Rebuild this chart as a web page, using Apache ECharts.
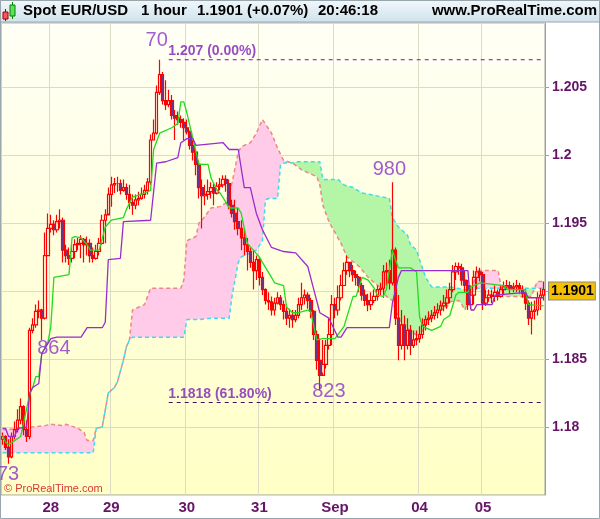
<!DOCTYPE html>
<html>
<head>
<meta charset="utf-8">
<title>Spot EUR/USD 1 hour</title>
<script src="https://cdn.jsdelivr.net/npm/echarts/dist/echarts.min.js"></script>
<style>
  html, body { margin: 0; padding: 0; background: #fff; }
  #chart { width: 600px; height: 519px; }
</style>
</head>
<body>
<div id="chart"></div>
<script>
// hourly candles
const opens = [1.1791,1.1793,1.1785,1.1778,1.1793,1.1798,1.1805,1.1815,1.1798,1.1793,
  1.1871,1.1875,1.1885,1.1886,1.1880,1.1926,1.1946,1.1949,1.1945,1.1951,
  1.1952,1.1930,1.1926,1.1924,1.1929,1.1934,1.1935,1.1938,1.1934,1.1935,
  1.1926,1.1924,1.1929,1.1935,1.1952,1.1956,1.1971,1.1978,1.1979,1.1979,
  1.1974,1.1976,1.1971,1.1965,1.1963,1.1967,1.1968,1.1971,1.1974,1.1980,
  1.2011,1.2016,1.2046,1.2059,1.2040,1.2037,1.2040,1.2029,1.2027,1.2026,
  1.2024,1.2020,1.2017,1.2007,1.2002,1.1993,1.1976,1.1970,1.1971,1.1973,
  1.1976,1.1972,1.1977,1.1978,1.1982,1.1979,1.1963,1.1957,1.1951,1.1946,
  1.1939,1.1934,1.1929,1.1921,1.1915,1.1923,1.1910,1.1901,1.1893,1.1892,
  1.1886,1.1891,1.1895,1.1890,1.1885,1.1880,1.1882,1.1879,1.1882,1.1890,
  1.1895,1.1897,1.1893,1.1885,1.1868,1.1849,1.1838,1.1846,1.1860,1.1868,
  1.1890,1.1886,1.1895,1.1904,1.1915,1.1921,1.1915,1.1912,1.1910,1.1904,
  1.1897,1.1893,1.1890,1.1893,1.1896,1.1901,1.1902,1.1914,1.1915,1.1906,
  1.1930,1.1880,1.1860,1.1875,1.1860,1.1871,1.1860,1.1864,1.1865,1.1868,
  1.1875,1.1879,1.1880,1.1882,1.1884,1.1886,1.1889,1.1891,1.1895,1.1901,
  1.1914,1.1918,1.1917,1.1908,1.1904,1.1890,1.1897,1.1910,1.1914,1.1912,
  1.1891,1.1895,1.1897,1.1896,1.1899,1.1896,1.1901,1.1903,1.1904,1.1902,
  1.1903,1.1904,1.1901,1.1898,1.1891,1.1880,1.1885,1.1886,1.1895,1.1897];
const closes = [1.1793,1.1785,1.1778,1.1793,1.1798,1.1805,1.1815,1.1798,1.1793,1.1871,
  1.1875,1.1885,1.1886,1.1880,1.1926,1.1946,1.1949,1.1945,1.1951,1.1952,
  1.1930,1.1926,1.1924,1.1929,1.1934,1.1935,1.1938,1.1934,1.1935,1.1926,
  1.1924,1.1929,1.1935,1.1952,1.1956,1.1971,1.1978,1.1979,1.1979,1.1974,
  1.1976,1.1971,1.1965,1.1963,1.1967,1.1968,1.1971,1.1974,1.1980,1.2011,
  1.2016,1.2046,1.2059,1.2040,1.2037,1.2040,1.2029,1.2027,1.2026,1.2024,
  1.2020,1.2017,1.2007,1.2002,1.1993,1.1976,1.1970,1.1971,1.1973,1.1976,
  1.1972,1.1977,1.1978,1.1982,1.1979,1.1963,1.1957,1.1951,1.1946,1.1939,
  1.1934,1.1929,1.1921,1.1915,1.1923,1.1910,1.1901,1.1893,1.1892,1.1886,
  1.1891,1.1895,1.1890,1.1885,1.1880,1.1882,1.1879,1.1882,1.1890,1.1895,
  1.1897,1.1893,1.1885,1.1868,1.1849,1.1838,1.1846,1.1860,1.1868,1.1890,
  1.1886,1.1895,1.1904,1.1915,1.1921,1.1915,1.1912,1.1910,1.1904,1.1897,
  1.1893,1.1890,1.1893,1.1896,1.1901,1.1902,1.1914,1.1915,1.1906,1.1930,
  1.1880,1.1860,1.1875,1.1860,1.1871,1.1860,1.1864,1.1865,1.1868,1.1875,
  1.1879,1.1880,1.1882,1.1884,1.1886,1.1889,1.1891,1.1895,1.1901,1.1914,
  1.1918,1.1917,1.1908,1.1904,1.1890,1.1897,1.1910,1.1914,1.1912,1.1891,
  1.1895,1.1897,1.1896,1.1899,1.1896,1.1901,1.1903,1.1904,1.1902,1.1903,
  1.1904,1.1901,1.1898,1.1891,1.1880,1.1885,1.1886,1.1895,1.1897,1.1901];
const highs = [1.1796,1.1794,1.1791,1.1796,1.1804,1.1813,1.1821,1.1816,1.1805,1.1873,
  1.1880,1.1890,1.1893,1.1887,1.1943,1.1957,1.1956,1.1952,1.1956,1.1960,
  1.1954,1.1934,1.1932,1.1934,1.1938,1.1939,1.1941,1.1939,1.1940,1.1938,
  1.1932,1.1934,1.1939,1.1956,1.1960,1.1976,1.1984,1.1983,1.1984,1.1982,
  1.1982,1.1979,1.1978,1.1971,1.1971,1.1973,1.1976,1.1978,1.1983,1.2015,
  1.2026,1.2051,1.2070,1.2061,1.2055,1.2048,1.2044,1.2033,1.2032,1.2029,
  1.2027,1.2026,1.2018,1.2011,1.2004,1.1996,1.1982,1.1978,1.1982,1.1980,
  1.1979,1.1980,1.1983,1.1985,1.1985,1.1982,1.1967,1.1967,1.1961,1.1952,
  1.1946,1.1939,1.1932,1.1930,1.1926,1.1924,1.1914,1.1902,1.1899,1.1896,
  1.1895,1.1899,1.1897,1.1893,1.1890,1.1887,1.1886,1.1886,1.1895,1.1906,
  1.1901,1.1899,1.1895,1.1886,1.1871,1.1865,1.1864,1.1864,1.1880,1.1897,
  1.1895,1.1904,1.1912,1.1921,1.1926,1.1921,1.1919,1.1915,1.1911,1.1906,
  1.1901,1.1898,1.1899,1.1901,1.1904,1.1906,1.1919,1.1921,1.1923,1.1980,
  1.1932,1.1897,1.1886,1.1882,1.1880,1.1875,1.1871,1.1871,1.1874,1.1880,
  1.1882,1.1885,1.1886,1.1889,1.1891,1.1893,1.1897,1.1901,1.1906,1.1919,
  1.1921,1.1921,1.1920,1.1915,1.1908,1.1904,1.1915,1.1918,1.1917,1.1914,
  1.1901,1.1901,1.1901,1.1904,1.1901,1.1904,1.1907,1.1908,1.1907,1.1906,
  1.1908,1.1906,1.1904,1.1901,1.1893,1.1892,1.1893,1.1899,1.1902,1.1907];
const lows = [1.1787,1.1783,1.1773,1.1777,1.1791,1.1796,1.1802,1.1794,1.1789,1.1791,
  1.1869,1.1873,1.1880,1.1864,1.1879,1.1926,1.1943,1.1941,1.1943,1.1946,
  1.1921,1.1921,1.1919,1.1921,1.1924,1.1930,1.1924,1.1921,1.1926,1.1921,
  1.1921,1.1923,1.1926,1.1934,1.1935,1.1957,1.1962,1.1972,1.1973,1.1971,
  1.1973,1.1967,1.1960,1.1956,1.1960,1.1963,1.1967,1.1968,1.1971,1.1978,
  1.2011,1.2015,1.2044,1.2037,1.2033,1.2035,1.2026,1.2011,1.2022,1.2020,
  1.2011,1.2015,1.2004,1.1996,1.1985,1.1968,1.1946,1.1963,1.1967,1.1968,
  1.1963,1.1971,1.1974,1.1976,1.1973,1.1960,1.1954,1.1945,1.1941,1.1930,
  1.1926,1.1915,1.1917,1.1901,1.1908,1.1904,1.1897,1.1890,1.1886,1.1882,
  1.1882,1.1890,1.1886,1.1879,1.1875,1.1873,1.1873,1.1877,1.1880,1.1886,
  1.1890,1.1887,1.1880,1.1864,1.1842,1.1827,1.1840,1.1843,1.1857,1.1860,
  1.1880,1.1882,1.1893,1.1904,1.1912,1.1910,1.1907,1.1904,1.1899,1.1893,
  1.1889,1.1885,1.1886,1.1891,1.1893,1.1897,1.1895,1.1904,1.1901,1.1904,
  1.1875,1.1849,1.1857,1.1849,1.1857,1.1853,1.1858,1.1860,1.1862,1.1865,
  1.1871,1.1875,1.1877,1.1879,1.1880,1.1882,1.1885,1.1887,1.1891,1.1899,
  1.1908,1.1912,1.1904,1.1899,1.1886,1.1887,1.1890,1.1901,1.1907,1.1886,
  1.1889,1.1892,1.1891,1.1892,1.1893,1.1895,1.1898,1.1901,1.1898,1.1899,
  1.1899,1.1898,1.1895,1.1886,1.1875,1.1868,1.1879,1.1882,1.1886,1.1893];

// day separators: bar index where each day starts
const dayStarts = [16, 36, 61, 85, 110, 138, 159];
const dayNames = ['28', '29', '30', '31', 'Sep', '04', '05'];

// ichimoku lines, [bar, price] at the break points
const tenkan = [[0,1.1794],[1,1.1789],[2,1.1787],[4,1.1790],[6,1.1793],[9,1.1824],[10,1.1829],[11,1.1837],[12,1.1837],
  [13,1.1854],[15,1.1862],[16,1.1874],[17,1.1910],[22,1.1912],[23,1.1939],[24,1.1940],[26,1.1939],[28,1.1934],
  [29,1.1930],[32,1.1930],[34,1.1947],[36,1.1952],[40,1.1954],[41,1.1960],[43,1.1969],[47,1.1972],[49,1.1974],
  [50,1.2004],[52,1.2016],[56,1.2020],[58,1.2023],[59,1.2039],[60,1.2039],[61,1.2031],[65,1.1993],[68,1.1993],
  [69,1.1983],[71,1.1974],[72,1.1972],[74,1.1965],[75,1.1961],[78,1.1961],[79,1.1957],[81,1.1935],[83,1.1930],
  [85,1.1925],[86,1.1921],[89,1.1910],[90,1.1906],[93,1.1904],[94,1.1888],[96,1.1884],[98,1.1884],[101,1.1886],
  [102,1.1885],[103,1.1874],[104,1.1864],[106,1.1865],[110,1.1865],[113,1.1874],[116,1.1896],[117,1.1896],
  [119,1.1910],[121,1.1908],[123,1.1902],[124,1.1897],[126,1.1896],[127,1.1901],[129,1.1930],[130,1.1923],
  [131,1.1917],[135,1.1917],[137,1.1914],[138,1.1881],[139,1.1874],[142,1.1871],[145,1.1874],[146,1.1879],
  [148,1.1882],[150,1.1897],[151,1.1899],[154,1.1899],[155,1.1903],[158,1.1906],[166,1.1904],[167,1.1901],
  [173,1.1901],[174,1.1890],[179,1.1889]];
const kijun = [[0,1.1799],[1,1.1799],[2,1.1793],[4,1.1793],[5,1.1799],[8,1.1800],[9,1.1825],[10,1.1829],[12,1.1832],
  [13,1.1854],[16,1.1865],[18,1.1866],[26,1.1866],[28,1.1873],[33,1.1873],[34,1.1877],[35,1.1923],[39,1.1924],
  [40,1.1951],[49,1.1952],[51,1.1994],[54,1.1995],[58,1.1998],[59,1.2009],[61,1.2012],[63,1.2012],[64,1.2007],
  [73,1.2009],[75,1.2004],[78,1.2004],[80,1.1976],[82,1.1976],[84,1.1957],[86,1.1945],[89,1.1932],[93,1.1929],
  [97,1.1928],[101,1.1918],[103,1.1901],[105,1.1884],[108,1.1880],[111,1.1866],[112,1.1866],[114,1.1873],
  [128,1.1873],[129,1.1891],[131,1.1910],[132,1.1915],[154,1.1915],[155,1.1886],[156,1.1886],[157,1.1890],
  [162,1.1890],[163,1.1897],[173,1.1899],[174,1.1895],[179,1.1895]];
const spanA = [[0,1.1798],[6,1.1799],[14,1.1801],[16,1.1802],[20,1.1801],[21,1.1802],[25,1.1799],[27,1.1796],
  [28,1.1790],[30,1.1790],[31,1.1799],[33,1.1800],[35,1.1825],[37,1.1829],[38,1.1833],[40,1.1849],[41,1.1859],
  [42,1.1864],[43,1.1886],[45,1.1888],[47,1.1890],[49,1.1902],[59,1.1902],[60,1.1908],[61,1.1937],[64,1.1940],
  [65,1.1950],[66,1.1952],[69,1.1961],[72,1.1962],[74,1.1965],[76,1.1980],[78,1.2002],[79,1.2006],[82,1.2009],
  [84,1.2016],[86,1.2026],[89,1.2016],[91,1.2005],[93,1.1996],[96,1.1994],[99,1.1989],[101,1.1987],[104,1.1984],
  [105,1.1978],[106,1.1963],[108,1.1951],[112,1.1935],[114,1.1925],[118,1.1918],[121,1.1910],[123,1.1906],
  [126,1.1901],[127,1.1896],[129,1.1893],[130,1.1886],[132,1.1876],[136,1.1869],[138,1.1866],[140,1.1875],
  [143,1.1884],[147,1.1888],[148,1.1892],[151,1.1893],[152,1.1890],[153,1.1886],[154,1.1892],[155,1.1899],
  [157,1.1915],[164,1.1915],[165,1.1902],[166,1.1896],[175,1.1896],[176,1.1902],[177,1.1907],[179,1.1907]];
const spanB = [[0,1.1781],[30,1.1781],[31,1.1799],[33,1.1800],[35,1.1825],[37,1.1829],[38,1.1833],[40,1.1849],
  [41,1.1859],[42,1.1864],[43,1.1866],[60,1.1866],[61,1.1879],[65,1.1879],[69,1.1880],[75,1.1880],[76,1.1897],
  [78,1.1921],[79,1.1925],[84,1.1930],[86,1.1937],[87,1.1967],[88,1.1968],[91,1.1968],[92,1.1993],[93,1.1994],
  [96,1.1994],[97,1.1995],[105,1.1995],[106,1.1982],[111,1.1982],[113,1.1978],[116,1.1976],[119,1.1972],
  [126,1.1969],[128,1.1968],[129,1.1954],[131,1.1947],[134,1.1941],[135,1.1934],[137,1.1930],[138,1.1923],
  [140,1.1910],[142,1.1903],[148,1.1903],[153,1.1901],[155,1.1899],[157,1.1902],[165,1.1902],[176,1.1902],
  [179,1.1902]];
// cloud pieces between the crossings: [from, to, kind]
const cloudParts = [[0, 96, 'a'], [96, 155, 'b'], [155, 165, 'a'], [165, 176, 'b'], [176, 179, 'a']];

// fibonacci levels
const fibLevels = [{ price: 1.2070, from: 55, text: '1.207 (0.00%)' },
                   { price: 1.1818, from: 55, text: '1.1818 (61.80%)' }];
// swing notes
const notes = [{ bar: 51, price: 1.2084, text: '70' },
               { bar: 17, price: 1.1858, text: '864' },
               { bar: 0, price: 1.1765, text: '773' },
               { bar: 108, price: 1.1826, text: '823' },
               { bar: 128, price: 1.1989, text: '980' }];
const lastPrice = closes[closes.length - 1];

const FONT = 'Liberation Sans, Arial, sans-serif';
const LABEL = '#661466';
const NOTE = '#8a35c8';

const bars = closes.map((c, i) => String(i));
const candles = closes.map((c, i) => [opens[i], c, lows[i], highs[i]]);

const chart = echarts.init(document.getElementById('chart'));

const option = {
  animation: false,
  backgroundColor: '#ffffff',
  grid: {
    left: 1, right: 55, top: 23, bottom: 24,
    show: true,
    borderColor: '#a0a0a0',
    borderWidth: 1,
    backgroundColor: {
      type: 'linear', x: 0, y: 0, x2: 0, y2: 1,
      colorStops: [{ offset: 0, color: '#fffff6' }, { offset: 1, color: '#ffffc6' }]
    }
  },
  xAxis: {
    type: 'category',
    data: bars,
    boundaryGap: true,
    axisLine: { show: false },
    axisTick: { show: false },
    axisLabel: {
      interval: (i) => dayStarts.includes(i),
      formatter: (v, i) => dayNames[dayStarts.indexOf(i)] || '',
      color: LABEL, fontWeight: 'bold', fontSize: 15, fontFamily: FONT, margin: 5
    },
    splitLine: {
      show: true,
      interval: (i) => dayStarts.includes(i),
      lineStyle: { color: '#dcdcc4', width: 1 }
    }
  },
  yAxis: {
    type: 'value',
    position: 'right',
    min: 1.175, max: 1.2097, interval: 0.005,
    axisLine: { show: true, lineStyle: { color: '#a0a0a0' } },
    axisTick: { show: true, length: 4, lineStyle: { color: '#a0a0a0' } },
    axisLabel: {
      showMinLabel: false, showMaxLabel: false,
      color: LABEL, fontWeight: 'bold', fontSize: 14, fontFamily: FONT, margin: 7,
      formatter: (v) => Math.abs(v - 1.19) < 1e-6 ? '' : String(+v.toFixed(3))
    },
    splitLine: { show: true, lineStyle: { color: '#dcdcc4', width: 1 } }
  },
  graphic: [
    {
      type: 'rect', shape: { x: 0, y: 0, width: 600, height: 22 },
      style: {
        fill: { type: 'linear', x: 0, y: 0, x2: 0, y2: 1,
          colorStops: [{ offset: 0, color: '#f2f8fb' }, { offset: 1, color: '#cfe2ec' }] },
        stroke: '#9aa6ae', lineWidth: 1
      }
    },
    { type: 'line', shape: { x1: 5.5, y1: 9, x2: 5.5, y2: 21 }, style: { stroke: '#a00000', lineWidth: 1 } },
    { type: 'rect', shape: { x: 3, y: 12, width: 5, height: 7 }, style: { fill: '#f25b5b', stroke: '#a00000', lineWidth: 1 } },
    { type: 'line', shape: { x1: 12.5, y1: 2, x2: 12.5, y2: 19 }, style: { stroke: '#008000', lineWidth: 1 } },
    { type: 'rect', shape: { x: 10, y: 5, width: 5, height: 11 }, style: { fill: '#5ee05e', stroke: '#008000', lineWidth: 1 } },
    { type: 'text', x: 23, y: 11, style: { text: 'Spot EUR/USD', font: 'bold 15px ' + FONT, fill: '#000', verticalAlign: 'middle' } },
    { type: 'text', x: 141, y: 11, style: { text: '1 hour', font: 'bold 15px ' + FONT, fill: '#000', verticalAlign: 'middle' } },
    { type: 'text', x: 197, y: 11, style: { text: '1.1901 (+0.07%)', font: 'bold 15px ' + FONT, fill: '#000', verticalAlign: 'middle' } },
    { type: 'text', x: 318, y: 11, style: { text: '20:46:18', font: 'bold 15px ' + FONT, fill: '#000', verticalAlign: 'middle' } },
    { type: 'text', x: 597, y: 11, style: { text: 'www.ProRealTime.com', font: 'bold 15px ' + FONT, fill: '#000', align: 'right', verticalAlign: 'middle' } },
    { type: 'text', x: 4, y: 489, z: 100, style: { text: '\u00a9 ProRealTime.com', font: '11px ' + FONT, fill: '#d83a3a', verticalAlign: 'middle' } },
    { type: 'rect', shape: { x: 0.5, y: 0.5, width: 599, height: 518 }, style: { fill: 'none', stroke: '#9aa6ae', lineWidth: 1 } }
  ],
  series: [
    {
      // kumo fill
      type: 'custom',
      silent: true,
      clip: true,
      data: cloudParts.map(p => [p[0], 1.19]),
      renderItem: function (params, api) {
        const part = cloudParts[params.dataIndex];
        const pts = [];
        spanA.forEach(p => { if (p[0] >= part[0] && p[0] <= part[1]) pts.push(api.coord(p)); });
        spanB.slice().reverse().forEach(p => { if (p[0] >= part[0] && p[0] <= part[1]) pts.push(api.coord(p)); });
        return {
          type: 'polygon',
          shape: { points: pts },
          style: { fill: part[2] === 'a' ? '#ffcbe8' : '#b5f5a6' }
        };
      },
      z: 1
    },
    {
      type: 'line', data: spanA, symbol: 'none', silent: true, z: 2,
      lineStyle: { color: '#f08585', width: 1.5, type: [4, 3] }
    },
    {
      type: 'line', data: spanB, symbol: 'none', silent: true, z: 2,
      lineStyle: { color: '#3ddcec', width: 1.5, type: [4, 3] }
    },
    {
      type: 'candlestick',
      data: candles,
      barWidth: 3,
      z: 3,
      itemStyle: {
        color: 'rgba(255,255,255,0)',
        color0: '#5a3c9c',
        borderColor: '#ff0000',
        borderColor0: '#ff0000',
        borderWidth: 1.2
      },
      markLine: {
        silent: true,
        symbol: ['none', 'none'],
        lineStyle: { color: 'rgba(0,0,0,0)', width: 1 },
        data: [{ yAxis: lastPrice }],
        label: {
          show: true,
          position: 'end', distance: 4,
          formatter: () => lastPrice.toFixed(4),
          color: '#000', fontWeight: 'bold', fontSize: 14, fontFamily: FONT,
          backgroundColor: '#f5c000', borderColor: '#8a8a8a', borderWidth: 1,
          padding: [2, 1, 1, 2]
        }
      }
    },
    {
      type: 'line', data: tenkan, symbol: 'none', silent: true, z: 4,
      lineStyle: { color: '#1fdc1f', width: 1.3 }
    },
    {
      type: 'line', data: kijun, symbol: 'none', silent: true, z: 4,
      lineStyle: { color: '#9a2bd0', width: 1.3 }
    },
    {
      type: 'line', data: [[fibLevels[0].from, fibLevels[0].price], [bars.length - 1, fibLevels[0].price]],
      symbol: 'none', silent: true, z: 5,
      lineStyle: { color: '#9a00cc', width: 1, type: [4, 4] }
    },
    {
      type: 'line', data: [[fibLevels[1].from, fibLevels[1].price], [bars.length - 1, fibLevels[1].price]],
      symbol: 'none', silent: true, z: 5,
      lineStyle: { color: '#4a1060', width: 1, type: [4, 4] }
    },
    {
      type: 'scatter', symbolSize: 1, silent: true, z: 6,
      itemStyle: { color: 'rgba(0,0,0,0)' },
      data: fibLevels.map(f => ({ value: [f.from, f.price], name: f.text })),
      label: {
        show: true, formatter: '{b}', position: [0, -1],
        align: 'left', verticalAlign: 'bottom',
        color: '#7d1fb8', fontWeight: 'bold', fontSize: 14, fontFamily: FONT
      }
    },
    {
      type: 'scatter', symbolSize: 1, silent: true, z: 6,
      itemStyle: { color: 'rgba(0,0,0,0)' },
      data: notes.map(n => ({ value: [n.bar, n.price], name: n.text })),
      label: {
        show: true, formatter: '{b}', position: 'inside',
        color: NOTE, fontSize: 20, fontFamily: FONT
      }
    }
  ]
};

chart.setOption(option);
</script>
</body>
</html>
